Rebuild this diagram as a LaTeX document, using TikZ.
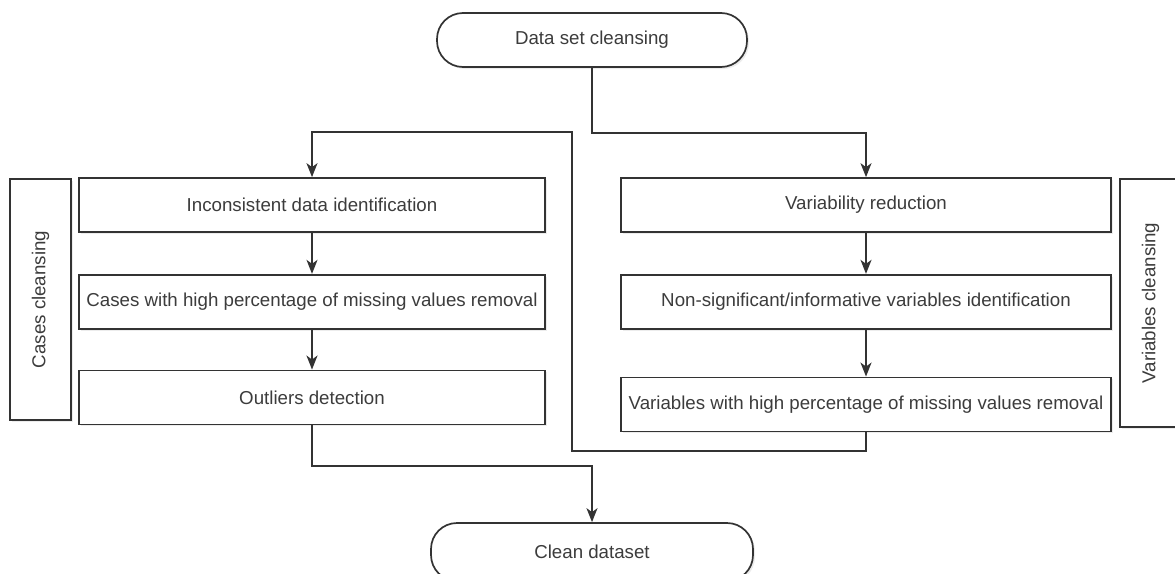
\documentclass[tikz,border=0pt]{standalone}
\usepackage{fontspec}
\setmainfont{Liberation Sans}
\usepackage{tikz}
\usetikzlibrary{arrows.meta,positioning,shadows}

\definecolor{linegray}{HTML}{333333}
\definecolor{textgray}{HTML}{3C3C3C}

\begin{document}
\begin{tikzpicture}[
    x=1pt, y=1pt,
    >={Stealth[length=14pt,width=11pt,inset=4pt]},
    every node/.style={font=\fontsize{18.7}{22}\selectfont, text=textgray},
    block/.style={draw=linegray, line width=1.7pt, fill=white, inner sep=0pt, minimum height=54pt,
        drop shadow={shadow xshift=2pt, shadow yshift=-2pt, opacity=0.15}},
    terminal/.style={block, rounded corners=26pt},
    side/.style={block, rotate=90, minimum height=61pt},
    arr/.style={->, draw=linegray, line width=1.7pt}
]
    \useasboundingbox (0,0) rectangle (1175,-573);

    \node[terminal, minimum width=310pt] (start) at (592,-40) {Data set cleansing};

    % cases column
    \node[block, minimum width=466pt] (incons) at (312,-205) {Inconsistent data identification};
    \node[block, minimum width=466pt, below=41pt of incons] (casemiss) {Cases with high percentage of missing values removal};
    \node[block, minimum width=466pt, below=40pt of casemiss] (outl) {Outliers detection};
    \node[side, minimum width=241pt] (cases) at (40.5,-299.5) {Cases cleansing};

    % variables column
    \node[block, minimum width=490pt] (varred) at (866,-205) {Variability reduction};
    \node[block, minimum width=490pt, below=41pt of varred] (nonsig) {Non-significant/informative variables identification};
    \node[block, minimum width=490pt, below=47pt of nonsig] (varmiss) {Variables with high percentage of missing values removal};
    \node[side, minimum width=248pt] (vars) at (1150.5,-303) {Variables cleansing};

    \node[terminal, minimum width=322pt, minimum height=58pt] (clean) at (592,-552) {Clean dataset};

    \coordinate (back) at (572,-132);

    \draw[arr] (start.south) -- ++(0,-65) -| (varred.north);
    \draw[arr] (varred) -- (nonsig);
    \draw[arr] (nonsig) -- (varmiss);
    \draw[arr] (varmiss.south) -- ++(0,-19) -| (back) -| (incons.north);
    \draw[arr] (incons) -- (casemiss);
    \draw[arr] (casemiss) -- (outl);
    \draw[arr] (outl.south) -- ++(0,-41) -| (clean.north);
\end{tikzpicture}
\end{document}
